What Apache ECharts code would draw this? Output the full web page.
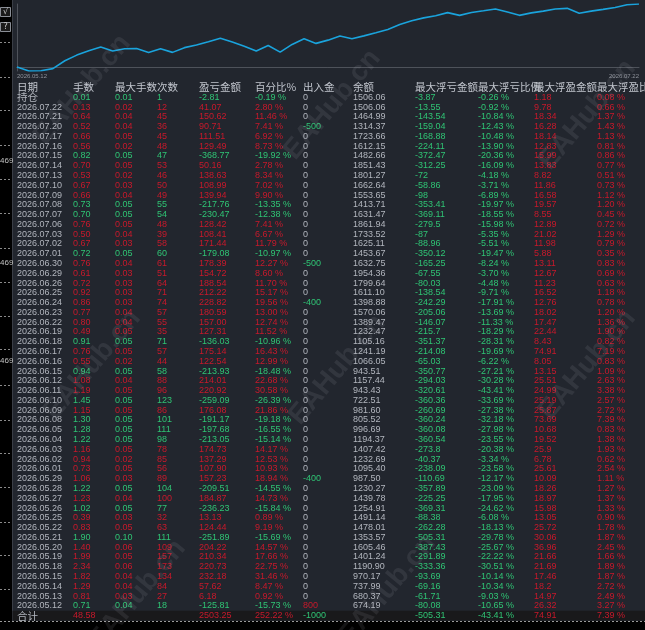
<!DOCTYPE html>
<html><head><meta charset="utf-8">
<script src="https://cdn.jsdelivr.net/npm/echarts@6/dist/echarts.min.js"></script>
<style>html,body{margin:0;padding:0;background:#000;}#c{width:645px;height:630px;}</style>
</head><body><div id="c"></div>
<script>
// ---------- DATA ----------
const headers = ['日期','手数','最大手数','次数','盈亏金额','百分比%','出入金','余额','最大浮亏金额','最大浮亏比例','最大浮盈金额','最大浮盈比例'];
const rowLabels = ['持仓','2026.07.22','2026.07.21','2026.07.20','2026.07.17','2026.07.16','2026.07.15','2026.07.14','2026.07.13','2026.07.10','2026.07.09','2026.07.08','2026.07.07','2026.07.06','2026.07.03','2026.07.02','2026.07.01','2026.06.30','2026.06.29','2026.06.26','2026.06.25','2026.06.24','2026.06.23','2026.06.22','2026.06.19','2026.06.18','2026.06.17','2026.06.16','2026.06.15','2026.06.12','2026.06.11','2026.06.10','2026.06.09','2026.06.08','2026.06.05','2026.06.04','2026.06.03','2026.06.02','2026.06.01','2026.05.29','2026.05.28','2026.05.27','2026.05.26','2026.05.25','2026.05.22','2026.05.21','2026.05.20','2026.05.19','2026.05.18','2026.05.15','2026.05.14','2026.05.13','2026.05.12','合计'];
const lots = [0.01,0.13,0.64,0.52,0.66,0.56,0.82,0.70,0.53,0.67,0.66,0.73,0.70,0.76,0.50,0.67,0.72,0.76,0.61,0.72,0.92,0.86,0.77,0.80,0.49,0.91,0.76,0.55,0.94,1.08,1.19,1.45,1.15,1.30,1.28,1.22,1.16,0.94,0.73,1.06,1.22,1.23,1.02,0.39,0.83,1.90,1.40,1.99,2.34,1.82,1.29,0.81,0.71,48.58];
const maxLots = [0.01,0.02,0.04,0.04,0.05,0.02,0.05,0.05,0.02,0.03,0.04,0.05,0.05,0.05,0.04,0.03,0.05,0.04,0.03,0.03,0.03,0.03,0.04,0.04,0.05,0.05,0.05,0.02,0.05,0.04,0.05,0.05,0.05,0.05,0.05,0.05,0.05,0.02,0.05,0.03,0.05,0.04,0.05,0.03,0.05,0.10,0.06,0.05,0.06,0.04,0.04,0.03,0.04,null];
const counts = [1,12,45,36,45,48,47,53,46,50,49,55,54,48,39,58,60,61,51,64,71,74,57,55,35,71,57,44,58,88,96,123,86,101,111,98,78,85,56,89,104,100,77,32,63,111,109,157,173,134,84,27,18,null];
const profit = [-2.81,41.07,150.62,90.71,111.51,129.49,-368.77,50.16,138.63,108.99,139.94,-217.76,-230.47,128.42,108.41,171.44,-179.08,178.39,154.72,188.54,212.22,228.82,180.59,157.00,127.31,-136.03,175.14,122.54,-213.93,214.01,220.92,-259.09,176.08,-191.17,-197.68,-213.05,174.73,137.29,107.90,157.23,-209.51,184.87,-236.23,13.13,124.44,-251.89,204.22,210.34,220.73,232.18,57.62,6.18,-125.81,2503.25];
const pct = [-0.19,2.80,11.46,7.41,6.92,8.73,-19.92,2.78,8.34,7.02,9.90,-13.35,-12.38,7.41,6.67,11.79,-10.97,12.27,8.60,11.70,15.17,19.56,13.00,12.74,11.52,-10.96,16.43,12.99,-18.48,22.68,30.58,-26.39,21.86,-19.18,-16.55,-15.14,14.17,12.53,10.93,18.94,-14.55,14.73,-15.84,0.89,9.19,-15.69,14.57,17.66,22.75,31.46,8.47,0.92,-15.73,252.22];
const cash = [0,0,0,-500,0,0,0,0,0,0,0,0,0,0,0,0,0,-500,0,0,0,-400,0,0,0,0,0,0,0,0,0,0,0,0,0,0,0,0,0,-400,0,0,0,0,0,0,0,0,0,0,0,0,800,-1000];
const balance = [1506.06,1506.06,1464.99,1314.37,1723.66,1612.15,1482.66,1851.43,1801.27,1662.64,1553.65,1413.71,1631.47,1861.94,1733.52,1625.11,1453.67,1632.75,1954.36,1799.64,1611.10,1398.88,1570.06,1389.47,1232.47,1105.16,1241.19,1066.05,943.51,1157.44,943.43,722.51,981.60,805.52,996.69,1194.37,1407.42,1232.69,1095.40,987.50,1230.27,1439.78,1254.91,1491.14,1478.01,1353.57,1605.46,1401.24,1190.90,970.17,737.99,680.37,674.19,null];
const maxLoss = [-3.87,-13.55,-143.54,-159.04,-168.88,-224.11,-372.47,-312.25,-72,-58.86,-98,-353.41,-369.11,-279.5,-87,-88.96,-350.12,-165.25,-67.55,-80.03,-138.54,-242.29,-205.06,-146.07,-215.7,-351.37,-214.08,-65.03,-350.77,-294.03,-320.61,-360.36,-260.69,-360.24,-360.08,-360.54,-273.8,-40.37,-238.09,-110.69,-357.89,-225.25,-369.31,-88.38,-262.28,-505.31,-387.43,-291.89,-333.36,-93.69,-69.16,-61.71,-80.08,-505.31];
const maxLossPct = [-0.26,-0.92,-10.84,-12.43,-10.48,-13.90,-20.36,-16.09,-4.18,-3.71,-6.89,-19.97,-18.55,-15.98,-5.35,-5.51,-19.47,-8.24,-3.70,-4.48,-9.71,-17.91,-13.69,-11.33,-18.29,-28.31,-19.69,-6.22,-27.21,-30.28,-43.41,-33.69,-27.38,-32.18,-27.98,-23.55,-20.38,-3.34,-23.58,-12.17,-23.09,-17.95,-24.62,-6.08,-18.13,-29.78,-25.67,-22.22,-30.51,-10.14,-10.34,-9.03,-10.65,-43.41];
const maxGain = [1.18,9.78,18.34,16.28,18.14,12.83,15.99,13.83,8.82,11.86,16.58,19.57,8.55,12.89,21.02,11.98,5.88,13.11,12.67,11.23,16.52,12.76,18.02,17.47,22.44,8.43,74.91,8.05,13.15,25.51,24.99,25.19,25.87,73.69,10.68,19.52,25.9,6.78,25.61,10.09,18.26,18.97,15.98,13.05,25.72,30.06,36.96,21.66,21.69,17.46,18.2,14.97,26.32,74.91];
const maxGainPct = [0.08,0.66,1.37,1.43,1.13,0.81,0.86,0.77,0.51,0.73,1.12,1.20,0.45,0.72,1.29,0.79,0.35,0.83,0.69,0.63,1.18,0.78,1.20,1.36,1.90,0.82,7.19,0.83,1.09,2.63,3.38,2.57,2.72,7.39,0.83,1.38,1.93,0.62,2.54,1.11,1.27,1.37,1.33,0.90,1.78,1.87,2.45,1.66,1.89,1.87,2.72,2.49,3.27,7.39];
// equity curve (cumulative daily %), oldest first, first point = start
const equityLabels = ['2026.05.12','2026.05.12','2026.05.13','2026.05.14','2026.05.15','2026.05.18','2026.05.19','2026.05.20','2026.05.21','2026.05.22','2026.05.25','2026.05.26','2026.05.27','2026.05.28','2026.05.29','2026.06.01','2026.06.02','2026.06.03','2026.06.04','2026.06.05','2026.06.08','2026.06.09','2026.06.10','2026.06.11','2026.06.12','2026.06.15','2026.06.16','2026.06.17','2026.06.18','2026.06.19','2026.06.22','2026.06.23','2026.06.24','2026.06.25','2026.06.26','2026.06.29','2026.06.30','2026.07.01','2026.07.02','2026.07.03','2026.07.06','2026.07.07','2026.07.08','2026.07.09','2026.07.10','2026.07.13','2026.07.14','2026.07.15','2026.07.16','2026.07.17','2026.07.20','2026.07.21','2026.07.22'];
const equity = [0,-15.73,-14.81,-6.34,25.12,47.87,65.53,80.10,64.41,73.60,74.49,58.65,73.38,58.83,77.77,88.70,101.23,115.40,100.26,83.71,64.53,86.39,60.00,90.58,113.26,94.78,107.77,124.20,113.24,124.76,137.50,150.50,170.06,185.23,196.93,205.53,217.80,206.83,218.62,225.29,232.70,220.32,206.97,216.87,223.89,232.23,235.01,215.09,223.82,230.74,238.15,249.61,252.41];

// ---------- STYLE / LAYOUT ----------
const BG = '#22262e';
const RED = '#c8192b';
const GREEN = '#2fc474';
const GRAY = '#b2b6be';
const HEAD = '#c2c6ce';
const colX = [17,73,115,157,199,255,303,353,415,478,534,597];
const NUM_FONT = '9px "Liberation Sans", Arial, sans-serif';
const CJK_FONT = '10.5px "Noto Sans CJK SC", sans-serif';

const f2 = v => v.toFixed(2);
const fp = v => v.toFixed(2) + ' %';
const fs = v => String(v);
const bySign = r => profit[r] < 0 ? GREEN : RED;
const columns = [
  {vals: rowLabels, fmt: fs, color: () => GRAY},
  {vals: lots, fmt: f2, color: bySign},
  {vals: maxLots, fmt: f2, color: bySign},
  {vals: counts, fmt: fs, color: bySign},
  {vals: profit, fmt: f2, color: bySign},
  {vals: pct, fmt: fp, color: bySign},
  {vals: cash, fmt: fs, color: r => cash[r] < 0 ? GREEN : (cash[r] > 0 ? RED : GRAY)},
  {vals: balance, fmt: f2, color: () => GRAY},
  {vals: maxLoss, fmt: fs, color: () => GREEN},
  {vals: maxLossPct, fmt: fp, color: () => GREEN},
  {vals: maxGain, fmt: fs, color: () => RED},
  {vals: maxGainPct, fmt: fp, color: () => RED}
];
const tableRows = ['header'].concat(rowLabels);
const cellData = [];
headers.forEach((h, c) => cellData.push([colX[c], 0, c, -1]));
for (let r = 0; r < rowLabels.length; r++) {
  for (let c = 0; c < columns.length; c++) {
    if (columns[c].vals[r] !== null) cellData.push([colX[c], r + 1, c, r]);
  }
}

const chart = echarts.init(document.getElementById('c'), null, {renderer: 'canvas'});

const graphics = [
  {type: 'rect', shape: {x: 0, y: 0, width: 12, height: 630}, style: {fill: '#000'}, z: 1},
  {type: 'line', shape: {x1: 12.5, y1: 0, x2: 12.5, y2: 621}, style: {stroke: '#3a3e46', lineWidth: 1}, z: 1},
  {type: 'rect', shape: {x: 0, y: 621, width: 645, height: 9}, style: {fill: '#000'}, z: 1},
  {type: 'line', shape: {x1: 0, y1: 621.5, x2: 645, y2: 621.5}, style: {stroke: '#9a9a9a', lineWidth: 1, lineDash: [2, 2]}, z: 1},
  {type: 'rect', shape: {x: 0.5, y: 7.5, width: 10, height: 9}, style: {fill: '#1a1a1a', stroke: '#8a8e96', lineWidth: 1}, z: 1},
  {type: 'text', x: 5.5, y: 12, style: {text: '√', fill: '#c8c8c8', font: '8px "DejaVu Sans"', align: 'center', verticalAlign: 'middle'}, z: 2},
  {type: 'rect', shape: {x: 0.5, y: 22.5, width: 10, height: 9}, style: {fill: '#1a1a1a', stroke: '#8a8e96', lineWidth: 1}, z: 1},
  {type: 'text', x: 5.5, y: 27, style: {text: '?', fill: '#c8c8c8', font: '8px "DejaVu Sans"', align: 'center', verticalAlign: 'middle'}, z: 2}
];
[42,77,110,145,179,213,248,282,316,349,385,420,453,487,522,555,589].forEach(y => {
  graphics.push({type: 'line', shape: {x1: 0, y1: y + 0.5, x2: 11, y2: y + 0.5}, style: {stroke: '#8a8a8a', lineWidth: 1, lineDash: [2, 2]}, z: 1});
});
[161,263,361].forEach(y => {
  graphics.push({type: 'text', x: 0, y: y, style: {text: '469', fill: '#c0c0c0', font: '8px "Liberation Sans", Arial', verticalAlign: 'middle'}, z: 2});
});
[[50,150],[300,165],[555,175],[60,425],[305,430],[555,425],[105,655],[355,650]].forEach(p => {
  graphics.push({type: 'text', x: p[0], y: p[1], rotation: 50 * Math.PI / 180, style: {text: 'EAHub.cn', fill: 'rgba(220,225,235,0.09)', font: 'bold 28px "Liberation Sans", Arial', verticalAlign: 'bottom'}, z: 100, silent: true});
});

const option = {
  backgroundColor: BG,
  animation: false,
  grid: [
    {left: 17, right: 6, top: 4, height: 67, outerBoundsMode: 'none'},
    {left: 0, right: 0, top: 82.6, height: 537.9, outerBoundsMode: 'none'}
  ],
  xAxis: [
    {gridIndex: 0, type: 'category', data: equityLabels, boundaryGap: false,
     axisLine: {show: true, lineStyle: {color: '#4e525a', width: 1}}, axisTick: {show: false}, splitLine: {show: false},
     axisLabel: {show: true, fontSize: 6, color: '#8e929a', margin: 2,
       interval: (i) => i === 0 || i === equityLabels.length - 1,
       alignMinLabel: 'left', alignMaxLabel: 'right'}},
    {gridIndex: 1, type: 'value', min: 0, max: 645, show: false}
  ],
  yAxis: [
    {gridIndex: 0, type: 'value', min: v => v.min, max: v => v.max, scale: true,
     axisLine: {show: true, lineStyle: {color: '#4e525a'}}, axisLabel: {show: false}, axisTick: {show: false}, splitLine: {show: false}},
    {gridIndex: 1, type: 'category', data: tableRows, inverse: true, show: false}
  ],
  graphic: graphics,
  series: [
    {type: 'line', xAxisIndex: 0, yAxisIndex: 0, data: equity, symbol: 'none', smooth: false,
     lineStyle: {color: '#1aa3dc', width: 1.6}},
    {type: 'custom', xAxisIndex: 1, yAxisIndex: 1, data: [[0, tableRows.length - 1]], z: 1,
     renderItem: function (params, api) {
       const p = api.coord([0, api.value(1)]);
       const h = api.size([0, 1])[1];
       return {type: 'rect', shape: {x: 12.5, y: p[1] - h / 2, width: 633, height: h}, style: {fill: '#19191b'}};
     }},
    {type: 'custom', xAxisIndex: 1, yAxisIndex: 1, data: cellData, z: 3, clip: false,
     renderItem: function (params, api) {
       const p = api.coord([api.value(0), api.value(1)]);
       const c = api.value(2), r = api.value(3);
       let text, fill, font;
       if (r < 0) { text = headers[c]; fill = HEAD; font = CJK_FONT; }
       else {
         const col = columns[c];
         text = col.fmt(col.vals[r]);
         fill = col.color(r);
         font = /[\u4e00-\u9fff]/.test(text) ? CJK_FONT : NUM_FONT;
       }
       return {type: 'text', x: p[0], y: p[1], silent: true,
               style: {text: text, fill: fill, font: font, align: 'left', verticalAlign: 'middle'}};
     }}
  ]
};
chart.setOption(option);
</script>
</body></html>
